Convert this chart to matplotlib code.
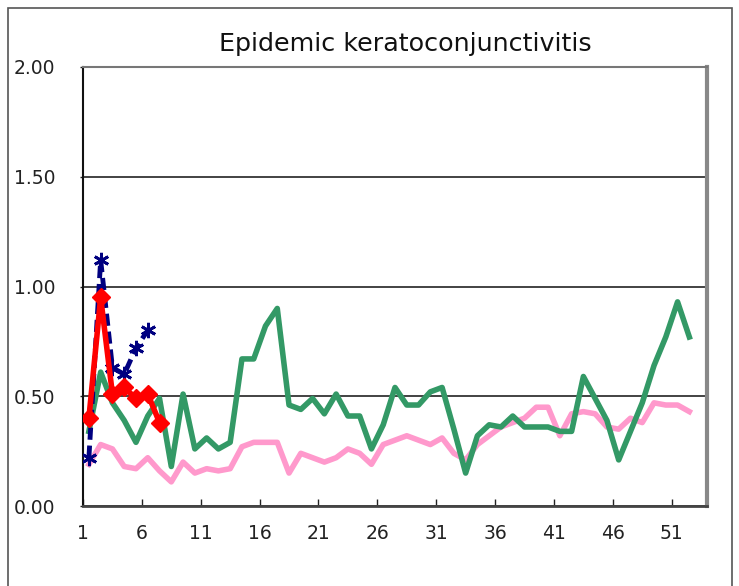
import numpy as np
import matplotlib
matplotlib.use("Agg")
import matplotlib.pyplot as plt
from matplotlib.patches import Rectangle

weeks = list(range(1, 53))

# green line: long-term average
green = [0.34, 0.61, 0.47, 0.39, 0.29, 0.41, 0.49, 0.18, 0.51, 0.26,
         0.31, 0.26, 0.29, 0.67, 0.67, 0.82, 0.90, 0.46, 0.44, 0.49,
         0.42, 0.51, 0.41, 0.41, 0.26, 0.37, 0.54, 0.46, 0.46, 0.52,
         0.54, 0.35, 0.15, 0.32, 0.37, 0.36, 0.41, 0.36, 0.36, 0.36,
         0.34, 0.34, 0.59, 0.49, 0.39, 0.21, 0.34, 0.47, 0.64, 0.77,
         0.93, 0.77]

# pink line
pink = [0.19, 0.28, 0.26, 0.18, 0.17, 0.22, 0.16, 0.11, 0.20, 0.15,
        0.17, 0.16, 0.17, 0.27, 0.29, 0.29, 0.29, 0.15, 0.24, 0.22,
        0.20, 0.22, 0.26, 0.24, 0.19, 0.28, 0.30, 0.32, 0.30, 0.28,
        0.31, 0.24, 0.21, 0.28, 0.32, 0.36, 0.38, 0.40, 0.45, 0.45,
        0.32, 0.42, 0.43, 0.42, 0.36, 0.35, 0.40, 0.38, 0.47, 0.46,
        0.46, 0.43]

# blue dashed (previous year, partial)
blue_weeks = [1, 2, 3, 4, 5, 6]
blue = [0.22, 1.12, 0.63, 0.60, 0.72, 0.80]

# red (current year)
red_weeks = [1, 2, 3, 4, 5, 6, 7]
red = [0.40, 0.95, 0.51, 0.54, 0.49, 0.51, 0.38]

xtick_labels = [str(w) for w in range(1, 52, 5)]
yticks = [0.0, 0.5, 1.0, 1.5, 2.0]

fig = plt.figure(figsize=(7.39, 5.86), dpi=100)
ax = fig.add_axes([83 / 739, 1 - 506 / 586, 624 / 739, 439 / 586])

# frame around the whole chart
fig.patches.append(Rectangle((8 / 739, -0.05), 724 / 739, 1.05 - 8 / 586,
                             transform=fig.transFigure, fill=False,
                             edgecolor="#555555", linewidth=1.2))

ax.plot(weeks, pink, color="#ff99cc", linewidth=4, solid_joinstyle="round", zorder=2)
ax.plot(weeks, green, color="#339966", linewidth=4, solid_joinstyle="round", zorder=3)
ax.plot(blue_weeks, blue, color="#000080", linewidth=3.5, linestyle=(0, (2.5, 1.2)),
        marker=(6, 2, 0), markersize=11, markeredgewidth=2, zorder=4)
ax.plot(red_weeks, red, color="#ff0000", linewidth=4, marker="D", markersize=9,
        zorder=5)

ax.set_xlim(0.5, 53.5)
ax.set_ylim(0, 2.0)
ax.set_yticks(yticks)
ax.set_yticklabels(["%.2f" % v for v in yticks])
ax.set_xticks([w - 0.5 for w in range(1, 52, 5)])
ax.set_xticklabels(xtick_labels)

ax.yaxis.grid(True, color="#222222", linewidth=1.2)
ax.set_axisbelow(True)

ax.tick_params(axis="x", direction="in", length=5, width=1, pad=13,
               labelsize=13.5, colors="#222222")
ax.tick_params(axis="y", direction="out", length=2, width=1, pad=48,
               labelsize=13.5, colors="#222222")
for lab in ax.get_yticklabels():
    lab.set_horizontalalignment("left")

ax.spines["left"].set_color("#111111")
ax.spines["left"].set_linewidth(1.5)
ax.spines["bottom"].set_color("#444444")
ax.spines["bottom"].set_linewidth(2)
ax.spines["top"].set_color("#777777")
ax.spines["top"].set_linewidth(1.5)
ax.spines["right"].set_color("#888888")
ax.spines["right"].set_linewidth(3)

fig.text(405 / 739, 1 - 44 / 586, "Epidemic keratoconjunctivitis",
         ha="center", va="center", fontsize=18.3, color="#111111")

fig.savefig("out.png", dpi=100)
